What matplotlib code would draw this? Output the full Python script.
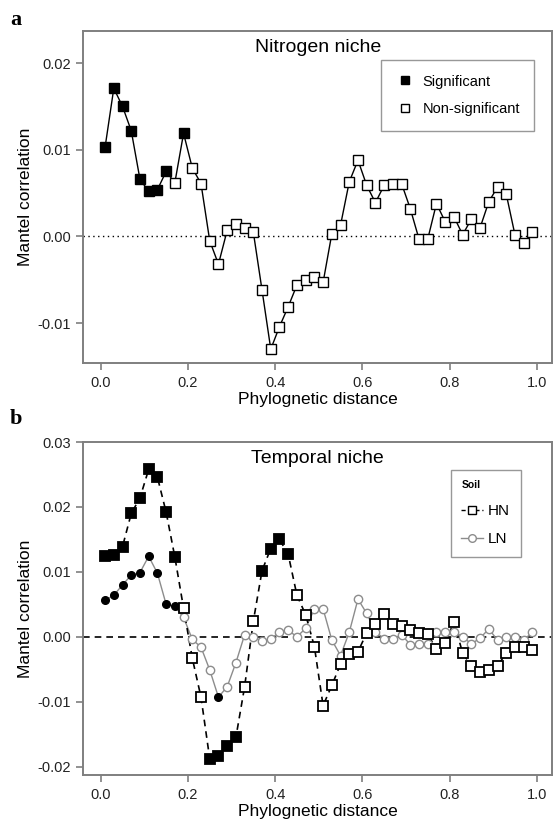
import matplotlib
matplotlib.use('Agg')
import matplotlib.pyplot as plt
from matplotlib.lines import Line2D

plt.rcParams['font.family'] = ['Liberation Sans', 'DejaVu Sans']

# distance class centres
distance = [0.01, 0.03, 0.05, 0.07, 0.09, 0.11, 0.13, 0.15, 0.17, 0.19,
            0.21, 0.23, 0.25, 0.27, 0.29, 0.31, 0.33, 0.35, 0.37, 0.39,
            0.41, 0.43, 0.45, 0.47, 0.49, 0.51, 0.53, 0.55, 0.57, 0.59,
            0.61, 0.63, 0.65, 0.67, 0.69, 0.71, 0.73, 0.75, 0.77, 0.79,
            0.81, 0.83, 0.85, 0.87, 0.89, 0.91, 0.93, 0.95, 0.97, 0.99]

# panel a - nitrogen niche
nitrogen = [0.0103, 0.0171, 0.0150, 0.0122, 0.0066, 0.0052, 0.0054, 0.0075, 0.0062, 0.0119,
            0.0079, 0.0061, -0.0005, -0.0032, 0.0007, 0.0014, 0.0010, 0.0005, -0.0062, -0.0130,
            -0.0104, -0.0081, -0.0056, -0.0050, -0.0047, -0.0053, 0.0003, 0.0013, 0.0063, 0.0088,
            0.0059, 0.0039, 0.0059, 0.0060, 0.0061, 0.0032, -0.0003, -0.0003, 0.0038, 0.0017,
            0.0023, 0.0002, 0.0020, 0.0010, 0.0040, 0.0057, 0.0049, 0.0002, -0.0008, 0.0005]
nitrogen_sig = [1, 1, 1, 1, 1, 1, 1, 1, 0, 1] + [0] * 40

# panel b - temporal niche, HN and LN soils
hn = [0.0125, 0.0126, 0.0139, 0.0190, 0.0214, 0.0258, 0.0246, 0.0192, 0.0123, 0.0044,
      -0.0033, -0.0093, -0.0188, -0.0183, -0.0169, -0.0155, -0.0077, 0.0024, 0.0102, 0.0136,
      0.0150, 0.0127, 0.0064, 0.0034, -0.0015, -0.0106, -0.0075, -0.0042, -0.0027, -0.0023,
      0.0006, 0.0019, 0.0035, 0.0020, 0.0017, 0.0010, 0.0006, 0.0004, -0.0019, -0.0010,
      0.0023, -0.0025, -0.0045, -0.0054, -0.0051, -0.0045, -0.0025, -0.0015, -0.0016, -0.0020]
hn_sig = [1] * 9 + [0, 0, 0, 1, 1, 1, 1, 0, 0, 1, 1, 1, 1] + [0] * 28

ln = [0.0056, 0.0064, 0.0080, 0.0095, 0.0099, 0.0124, 0.0098, 0.0050, 0.0047, 0.0030,
      -0.0004, -0.0016, -0.0051, -0.0093, -0.0077, -0.0040, 0.0003, 0.0000, -0.0007, -0.0004,
      0.0008, 0.0010, 0.0000, 0.0013, 0.0043, 0.0043, -0.0005, -0.0029, 0.0007, 0.0058,
      0.0036, 0.0008, -0.0003, -0.0003, 0.0003, -0.0012, -0.0011, -0.0011, 0.0008, 0.0008,
      0.0008, 0.0000, -0.0011, -0.0002, 0.0012, -0.0005, -0.0001, -0.0001, -0.0005, 0.0007]
ln_sig = [1] * 9 + [0, 0, 0, 0, 1] + [0] * 36

x_ticks = [0.0, 0.2, 0.4, 0.6, 0.8, 1.0]
a_yticks = [-0.01, 0.00, 0.01, 0.02]
b_yticks = [-0.02, -0.01, 0.00, 0.01, 0.02, 0.03]

SPINE = '#7f7f7f'


def style_axes(ax, yticks, ylim):
    ax.set_xlim(-0.04, 1.035)
    ax.set_ylim(*ylim)
    ax.set_xticks(x_ticks)
    ax.set_xticklabels([f"{t:.1f}" for t in x_ticks])
    ax.set_yticks(yticks)
    ax.set_yticklabels([f"{t:.2f}" for t in yticks])
    for s in ax.spines.values():
        s.set_color(SPINE)
        s.set_linewidth(1.4)
    ax.tick_params(direction='out', length=5, width=1.2, color=SPINE,
                   labelsize=10.5, labelcolor='#222222', pad=4)
    ax.set_xlabel('Phylognetic distance', fontsize=12.5, labelpad=2)
    ax.set_ylabel('Mantel correlation', fontsize=12.5, labelpad=3)


def split(xs, ys, flags, want):
    px = [x for x, f in zip(xs, flags) if f == want]
    py = [y for y, f in zip(ys, flags) if f == want]
    return px, py


fig = plt.figure(figsize=(5.53, 8.26), dpi=100)
ax1 = fig.add_axes([0.1506, 0.5605, 0.8476, 0.4019])
ax2 = fig.add_axes([0.1506, 0.0617, 0.8476, 0.4031])

# ---- panel a ----
ax1.axhline(0, color='black', linestyle=(0, (1, 2.5)), linewidth=1.0, zorder=1)
ax1.plot(distance, nitrogen, color='black', linewidth=1.0, zorder=2)
sx, sy = split(distance, nitrogen, nitrogen_sig, 1)
nx, ny = split(distance, nitrogen, nitrogen_sig, 0)
ax1.plot(sx, sy, 's', ms=6.5, mfc='black', mec='black', mew=1.0, zorder=3)
ax1.plot(nx, ny, 's', ms=6.5, mfc='white', mec='black', mew=1.0, zorder=3)
style_axes(ax1, a_yticks, (-0.0146, 0.0237))
ax1.text(0.5, 0.975, 'Nitrogen niche', transform=ax1.transAxes, ha='center',
         va='top', fontsize=14)
h_sig = Line2D([], [], linestyle='none', marker='s', ms=6, mfc='black', mec='black')
h_non = Line2D([], [], linestyle='none', marker='s', ms=6, mfc='white', mec='black')
leg1 = ax1.legend([h_sig, h_non], ['Significant', 'Non-significant'],
                  loc='upper right', bbox_to_anchor=(0.978, 0.935), fontsize=10.5,
                  frameon=True, fancybox=False, borderpad=1.0, labelspacing=0.95,
                  handletextpad=0.6, handlelength=1.2)
leg1.get_frame().set_edgecolor(SPINE)
leg1.get_frame().set_linewidth(1.0)

# ---- panel b ----
ax2.axhline(0, color='black', linestyle=(0, (4, 3)), linewidth=1.2, zorder=1)
ax2.plot(distance, ln, color='#8c8c8c', linewidth=1.0, zorder=2)
ax2.plot(distance, hn, color='black', linestyle=(0, (4, 3)), linewidth=1.2, zorder=2)
sx, sy = split(distance, ln, ln_sig, 1)
nx, ny = split(distance, ln, ln_sig, 0)
ax2.plot(nx, ny, 'o', ms=6.0, mfc='white', mec='#8c8c8c', mew=1.0, zorder=3)
ax2.plot(sx, sy, 'o', ms=5.5, mfc='black', mec='black', mew=1.0, zorder=3)
sx, sy = split(distance, hn, hn_sig, 1)
nx, ny = split(distance, hn, hn_sig, 0)
ax2.plot(nx, ny, 's', ms=7.5, mfc='white', mec='black', mew=1.3, zorder=4)
ax2.plot(sx, sy, 's', ms=7.5, mfc='black', mec='black', mew=1.3, zorder=4)
style_axes(ax2, b_yticks, (-0.0213, 0.030))
ax2.text(0.5, 0.975, 'Temporal niche', transform=ax2.transAxes, ha='center',
         va='top', fontsize=14)
h_hn = Line2D([], [], color='black', linestyle=(0, (3, 2)), linewidth=1.0,
              marker='s', ms=5.5, mfc='white', mec='black')
h_ln = Line2D([], [], color='#8c8c8c', linewidth=1.0,
              marker='o', ms=5.5, mfc='white', mec='#8c8c8c')
leg2 = ax2.legend([h_hn, h_ln], ['HN', 'LN'], title='Soil', loc='upper right',
                  bbox_to_anchor=(0.95, 0.94), fontsize=11, frameon=True,
                  fancybox=False, borderpad=0.7, labelspacing=0.9,
                  handletextpad=0.35, handlelength=1.4)
leg2.get_title().set_fontweight('bold')
leg2.get_title().set_fontsize(7.5)
leg2._legend_box.align = 'left'
leg2.get_frame().set_edgecolor(SPINE)
leg2.get_frame().set_linewidth(1.0)

# panel letters
fig.text(0.018, 0.988, 'a', fontsize=16, fontweight='bold', family='Liberation Serif',
         va='top')
fig.text(0.018, 0.505, 'b', fontsize=16, fontweight='bold', family='Liberation Serif',
         va='top')

fig.savefig('out.png', dpi=100)
